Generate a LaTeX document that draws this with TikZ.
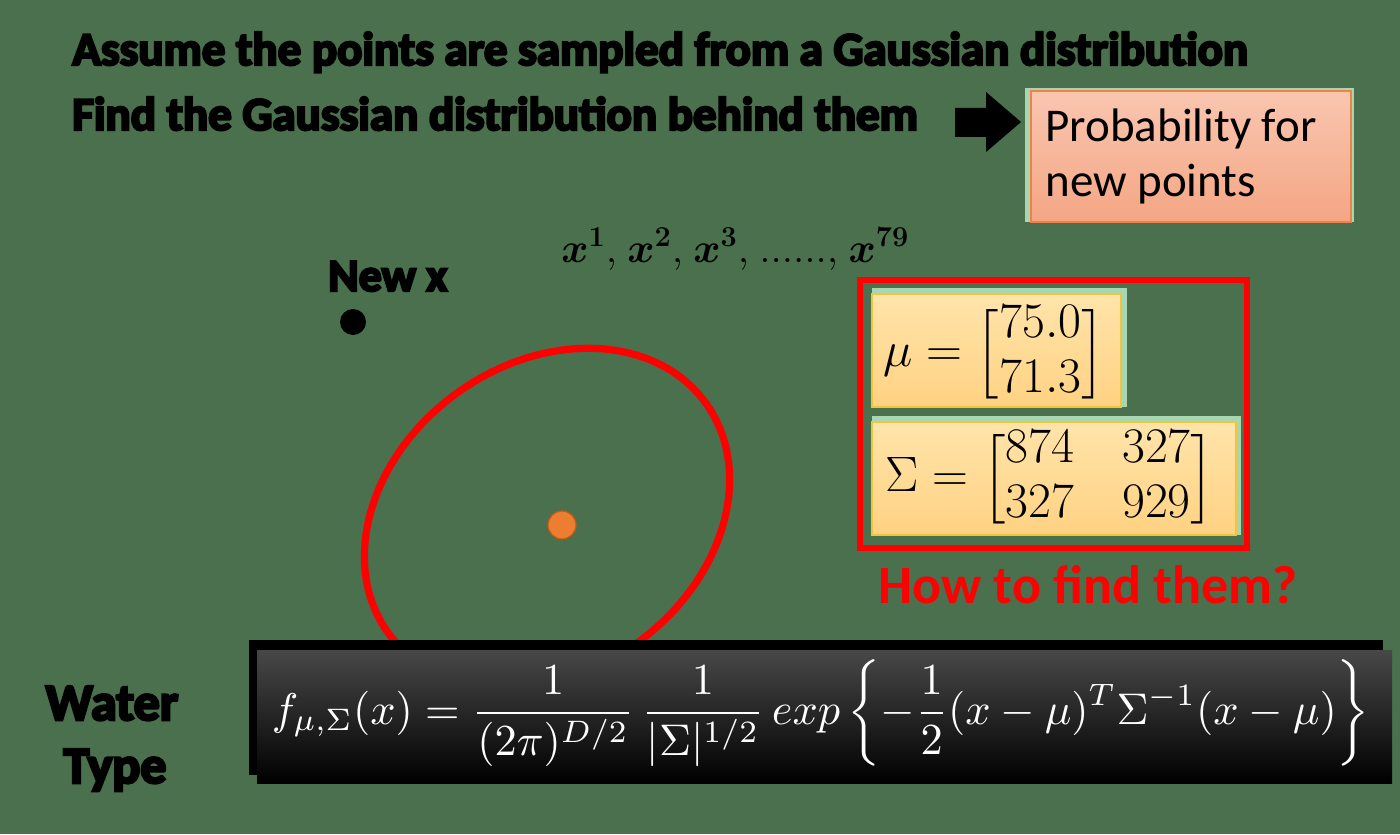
\documentclass[tikz,border=0pt]{standalone}
\usepackage{amsmath}
\usepackage{graphicx}
\usepackage[no-math]{fontspec}
\setmainfont{Carlito}
\newfontfamily\heavy{Carlito}[UprightFeatures={FakeBold=5}, BoldFeatures={FakeBold=5}]
\definecolor{bg}{RGB}{74,112,78}
\definecolor{glow}{RGB}{168,214,176}
\definecolor{salmontop}{RGB}{249,198,176}
\definecolor{salmonbot}{RGB}{244,166,132}
\definecolor{salmonedge}{RGB}{240,130,70}
\definecolor{yeltop}{RGB}{255,228,170}
\definecolor{yelbot}{RGB}{255,210,130}
\definecolor{yeledge}{RGB}{240,196,60}
\definecolor{dotorange}{RGB}{237,125,49}
\definecolor{dotedge}{RGB}{197,90,17}
\newcommand\samplelist{$\boldsymbol{x}^{\mathbf{1}}\mathbf{,}\ \boldsymbol{x}^{\mathbf{2}}\mathbf{,}\ \boldsymbol{x}^{\mathbf{3}}\mathbf{,}\ \mathbf{......}\mathbf{,}\ \boldsymbol{x}^{\mathbf{79}}$}
\newcommand\mumatrix{\delimiterfactor=750\delimitershortfall=15pt$\mu = \begin{bmatrix} 75.0 \\ 71.3 \end{bmatrix}$}
\newcommand\sigmamatrix{\delimiterfactor=750\delimitershortfall=15pt\setlength\arraycolsep{12pt}$\Sigma = \begin{bmatrix} 874 & 327 \\ 327 & 929 \end{bmatrix}$}
\newcommand\gaussformula{\resizebox{549pt}{!}{$\displaystyle f_{\mu,\Sigma}(x)=\frac{1}{(2\pi)^{D/2}}\,\frac{1}{|\Sigma|^{1/2}}\,exp\left\{-\frac{1}{2}(x-\mu)^T\Sigma^{-1}(x-\mu)\right\}$}}
\tikzset{
  headline/.style={font=\heavy\bfseries\fontsize{23.5pt}{28pt}\selectfont, text=black, inner sep=0pt, anchor=base west},
  newxtext/.style={font=\heavy\bfseries\fontsize{23pt}{27pt}\selectfont, text=black, inner sep=0pt, anchor=base west},
  bigblack/.style={font=\heavy\bfseries\fontsize{26pt}{30pt}\selectfont, text=black, inner sep=0pt, anchor=base},
  plain/.style={font=\fontsize{23.5pt}{28pt}\selectfont, text=black, inner sep=0pt, anchor=base west},
  sampletext/.style={font=\fontsize{22.5pt}{26pt}\selectfont, text=black, inner sep=0pt, anchor=base west},
  redtext/.style={font=\bfseries\fontsize{27pt}{30pt}\selectfont, text=red, inner sep=0pt, anchor=base west},
  mathbox/.style={inner sep=0pt, font=\fontsize{24pt}{27.5pt}\selectfont},
  yellowbox/.style={top color=yeltop, bottom color=yelbot, draw=yeledge, line width=0.8pt},
  redframe/.style={draw=red, line width=2.6pt},
}
\begin{document}
\begin{tikzpicture}[x=0.5pt,y=-0.5pt]
\fill[bg] (0,0) rectangle (1400,834);
\useasboundingbox (0,0) rectangle (1400,834);

% headline
\node[headline] (l1) at (72,65) {Assume the points are sampled from a Gaussian distribution};
\node[headline] (l2) at (72,130) {Find the Gaussian distribution behind them};

% block arrow
\fill[black] (955,108) -- (986,108) -- (986,92) -- (1021,122) -- (986,152) -- (986,137) -- (955,137) -- cycle;

% probability box
\fill[glow] (1025,88) rectangle (1354,222);
\shade[top color=salmontop, bottom color=salmonbot, draw=salmonedge, line width=0.8pt] (1031,91) rectangle (1351,222);
\node[plain] (p1) at (1045,142) {Probability for};
\node[plain] (p2) at (1045,197) {new points};

% sample labels
\node[sampletext] (xs) at (561,262) {\samplelist};
\node[newxtext] (newx) at (328,291) {New x};
\fill[black] (353,322) circle (6.5pt);

% ellipse and mean
\draw[red, line width=3.6pt, rotate around={36:(547,518)}] (547,518) ellipse [x radius=98pt, y radius=77pt];
\fill[dotorange, draw=dotedge, line width=0.6pt] (562,525) circle (7pt);

% red frame with parameters
\draw[redframe] (860,280) rectangle (1247,548);
\fill[glow] (872,288) rectangle (1127,407);
\shade[yellowbox] (872,294) rectangle (1121,407);
\node[mathbox] (mu) at (994,354) {\mumatrix};
\fill[glow] (872,416) rectangle (1241,535);
\shade[yellowbox] (872,422) rectangle (1236,535);
\node[mathbox] (sigma) at (1050,479) {\sigmamatrix};

\node[redtext] (how) at (878,603) {How to find them?};

% water type
\node[bigblack] (water) at (112,720) {Water};
\node[bigblack] (type) at (115,783) {Type};

% formula box
\fill[black] (249,640) rectangle (1383,775);
\shade[top color={rgb,255:red,72;green,72;blue,72}, middle color=black, bottom color=black] (257,650) rectangle (1392,783);
\node[inner sep=0pt, text=white] (formula) at (821,713) {\gaussformula};
\end{tikzpicture}
\end{document}
